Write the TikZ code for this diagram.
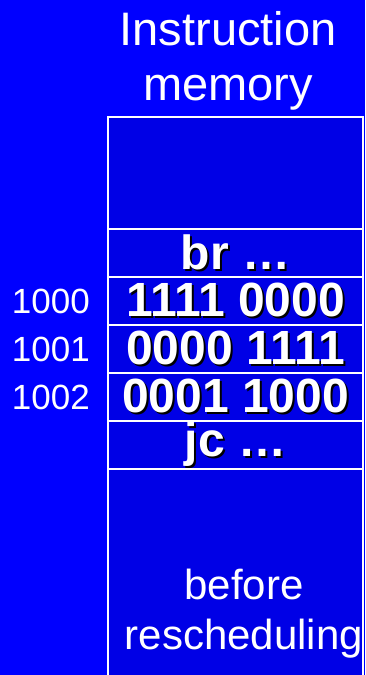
\documentclass[tikz,border=0pt]{standalone}
\usepackage{fontspec}
\setmainfont{Liberation Sans}
\usetikzlibrary{positioning}

\definecolor{slideblue}{RGB}{0,0,255}
\definecolor{cellblue}{RGB}{0,0,230}

% white text with a black drop shadow, set a little low in its cell
\newcommand\dropshadow[1]{\raisebox{-2pt}{\rlap{\hspace{2pt}\raisebox{-2pt}{\color{black}#1}}#1}}

\tikzset{
    memcell/.style={draw=white, line width=2pt, fill=cellblue, minimum width=255pt,
        minimum height=48pt, inner sep=0pt, outer sep=0pt, text=white,
        font=\fontsize{48}{50}\selectfont\bfseries},
    addr/.style={text=white, inner sep=0pt, font=\fontsize{35}{40}\selectfont},
    plain/.style={text=white, inner sep=0pt, align=center},
}

\begin{document}
\begin{tikzpicture}
        \useasboundingbox[fill=slideblue] (0,0) rectangle (365pt,-675pt);

        \node[plain, font=\fontsize{47}{55}\selectfont] (title) at (228pt,-60.5pt) {Instruction\\memory};

        \node[memcell, minimum height=112pt, anchor=north west] (free) at (108pt,-117pt) {};
        \node[memcell, below=0pt of free] (br) {\dropshadow{br …}};
        \node[memcell, below=0pt of br] (w0) {\dropshadow{1111 0000}};
        \node[memcell, below=0pt of w0] (w1) {\dropshadow{0000 1111}};
        \node[memcell, below=0pt of w1] (w2) {\dropshadow{0001 1000}};
        \node[memcell, below=0pt of w2] (jc) {\dropshadow{jc …}};
        \node[memcell, minimum height=220pt, below=0pt of jc] (rest) {};

        \node[addr, left=18pt of w0] (a0) {1000};
        \node[addr, left=18pt of w1] (a1) {1001};
        \node[addr, left=18pt of w2] (a2) {1002};

        \node[plain, font=\fontsize{42}{50}\selectfont] (note) at (244pt,-614pt) {before\\rescheduling};
\end{tikzpicture}
\end{document}
